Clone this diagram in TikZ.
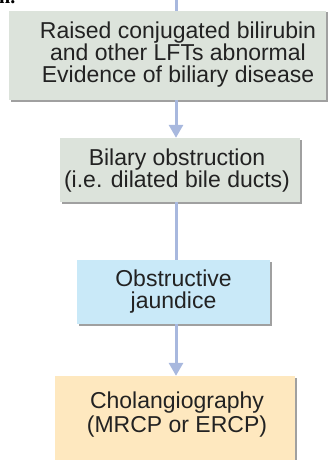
\documentclass[tikz,border=0pt]{standalone}
\usepackage{fontspec}
\setmainfont{Liberation Sans}
\newfontfamily\capserif{Liberation Serif}
\usetikzlibrary{arrows.meta}
\definecolor{boxgray}{HTML}{DCE3DB}
\definecolor{boxblue}{HTML}{C9E9F8}
\definecolor{boxyellow}{HTML}{FEE8BF}
\definecolor{arrowc}{HTML}{A8B8DE}
\definecolor{txtc}{HTML}{222222}
\definecolor{shadowc}{HTML}{A0A0A0}
\tikzset{
  boxshape/.style={draw=none, inner sep=0pt, rectangle,
    preaction={fill=shadowc, transform canvas={xshift=1.5pt, yshift=-1.5pt}}},
  boxtext/.style={text=txtc, align=center, inner sep=0pt,
    font=\fontsize{23}{22}\selectfont},
  conn/.style={draw=arrowc, line width=3pt},
  arr/.style={conn, -{Triangle[width=14pt, length=13pt]}, shorten >=0pt}
}
\begin{document}
\begin{tikzpicture}[x=1pt, y=-1pt]
\useasboundingbox (0,0) rectangle (332,460);
\clip (0,0) rectangle (332,460);
% fragment of preceding caption
\node[anchor=base west, inner sep=0pt, font=\capserif\bfseries\fontsize{20}{20}\selectfont] (frag) at (-1,4) {n.};
\coordinate (ax) at (176,0);
% boxes
\node[boxshape, fill=boxgray, minimum width=317, minimum height=89] (b1) at (167.5,55.5) {};
\node[boxtext] (t1) at (178,55) {Raised conjugated bilirubin\\and other LFTs abnormal\\Evidence of biliary disease};
\node[boxshape, fill=boxgray, minimum width=240, minimum height=64] (b2) at (180,170) {};
\node[boxtext] (t2) at (177,171) {Bilary obstruction\\(i.e. dilated bile ducts)};
\node[boxshape, fill=boxblue, minimum width=193, minimum height=64] (b3) at (173.5,292) {};
\node[boxtext] (t3) at (173.5,292) {Obstructive\\jaundice};
\node[boxshape, fill=boxyellow, minimum width=240, minimum height=100] (b4) at (175,426) {};
\node[boxtext, font=\fontsize{23}{24}\selectfont] (t4) at (177,415) {Cholangiography\\(MRCP or ERCP)};
% connectors
\draw[conn] (ax) -- (ax |- b1.north);
\draw[arr] (b1.south -| ax) -- (b2.north -| ax);
\draw[conn] (b2.south -| ax) -- (b3.north -| ax);
\draw[arr] (b3.south -| ax) -- (b4.north -| ax);
\end{tikzpicture}
\end{document}
